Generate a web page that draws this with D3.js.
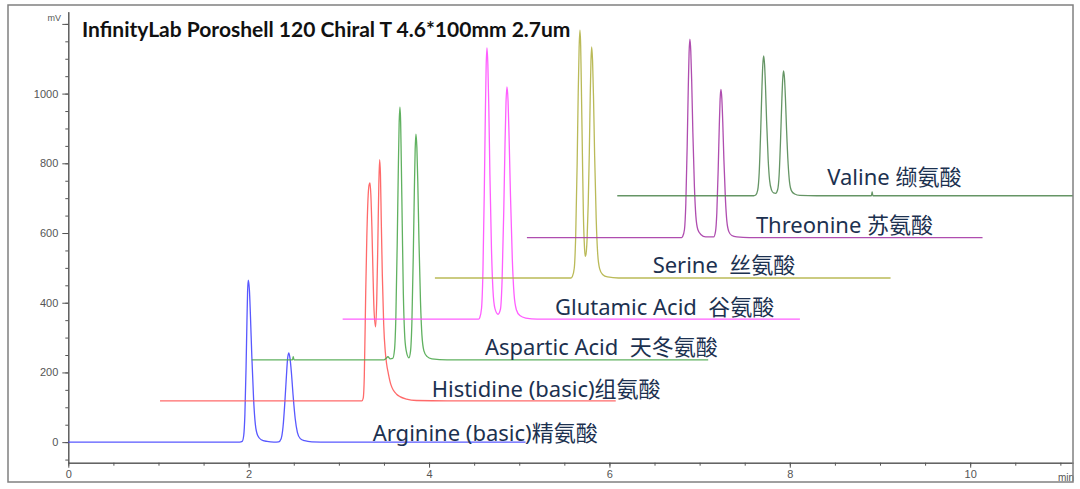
<!DOCTYPE html>
<html><head><meta charset="utf-8">
<script src="https://cdn.jsdelivr.net/npm/d3@7"></script>
<style>body{margin:0;background:#fff}svg{display:block}</style>
</head><body>
<svg id="chart" width="1080" height="489"></svg>
<script>
// ---------- data ----------
const titleText = "InfinityLab Poroshell 120 Chiral T 4.6*100mm 2.7um";
const seriesNames = ["Arginine (basic)精氨酸", "Histidine (basic)组氨酸", "Aspartic Acid  天冬氨酸", "Glutamic Acid  谷氨酸", "Serine  丝氨酸", "Threonine 苏氨酸", "Valine 缬氨酸"];
const baselineOffsets = [0, 118.5, 236, 353, 471, 587, 707];   // mV
const labelTime = [3.375, 4.029, 4.620, 5.396, 6.479, 7.624, 8.415]; // min
const labelLevel = [4, 130, 250, 365, 484, 599, 738];                // mV

const argT = [0, 1.0, 1.9, 1.928, 1.945, 1.958, 1.971, 1.981, 1.988, 1.996, 2.008, 2.019, 2.035, 2.055, 2.074, 2.100, 2.139, 2.204, 2.28, 2.332, 2.360, 2.381, 2.402, 2.419, 2.431, 2.444, 2.458, 2.473, 2.492, 2.516, 2.540, 2.572, 2.620, 2.700, 2.9, 4.0, 5.07];
const argV = [0, 0, 0, 2, 19, 79, 214, 349, 432, 465, 437, 367, 246, 121, 51, 19, 7, 2, 0, 1, 10, 44, 118, 192, 238, 256, 241, 202, 136, 67, 28, 10, 4, 1, 0, 0, 0];

const hisT = [1.017, 2.0, 3.0, 3.255, 3.27, 3.282, 3.297, 3.31, 3.325, 3.336, 3.345, 3.355, 3.366, 3.378, 3.39, 3.408, 3.42, 3.432, 3.443, 3.452, 3.461, 3.47, 3.482, 3.497, 3.515, 3.53, 3.548, 3.575, 3.603, 3.64, 3.677, 3.75, 3.86, 4.2, 6.07];
const hisV = [0, 0, 0, 0, 8, 70, 300, 470, 590, 620, 625, 590, 500, 370, 260, 212, 290, 450, 620, 692, 650, 520, 360, 220, 140, 105, 79, 48, 31, 19, 12, 5, 1, 0, 0];

const aspT = [2.033, 2.3, 2.485, 2.494, 2.503, 3.0, 3.5, 3.522, 3.544, 3.57, 3.597, 3.617, 3.632, 3.647, 3.659, 3.668, 3.677, 3.685, 3.692, 3.703, 3.715, 3.728, 3.745, 3.777, 3.795, 3.810, 3.825, 3.837, 3.846, 3.855, 3.865, 3.875, 3.888, 3.905, 3.921, 3.943, 3.976, 4.031, 4.2, 5.5, 7.095];
const aspV = [0, 0, 0, 9, 0, 0, 0, 4, 9, 3, 4, 29, 123, 334, 544, 674, 725, 682, 573, 384, 189, 80, 29, 6, 26, 110, 298, 486, 603, 648, 609, 512, 343, 168, 71, 26, 10, 3, 0, 0, 0];

const gluT = [3.042, 4.0, 4.55, 4.562, 4.582, 4.597, 4.612, 4.624, 4.633, 4.642, 4.652, 4.662, 4.675, 4.692, 4.708, 4.730, 4.765, 4.792, 4.810, 4.828, 4.842, 4.853, 4.864, 4.876, 4.887, 4.903, 4.923, 4.942, 4.968, 5.007, 5.072, 5.2, 6.5, 8.112];
const gluV = [0, 0, 0, 4, 31, 132, 358, 584, 724, 778, 731, 615, 412, 202, 86, 31, 14, 29, 113, 306, 500, 619, 666, 626, 526, 353, 173, 73, 27, 10, 3, 0, 0, 0];

const serT = [4.065, 5.0, 5.575, 5.589, 5.610, 5.626, 5.642, 5.654, 5.664, 5.673, 5.681, 5.688, 5.699, 5.711, 5.724, 5.731, 5.740, 5.752, 5.765, 5.777, 5.787, 5.795, 5.803, 5.813, 5.823, 5.836, 5.853, 5.869, 5.891, 5.924, 5.979, 6.1, 7.5, 9.117];
const serV = [0, 0, 0, 4, 28, 121, 327, 533, 661, 711, 668, 562, 377, 185, 85, 62, 68, 110, 215, 360, 520, 620, 663, 623, 524, 351, 172, 73, 27, 10, 3, 0, 0, 0];

const thrT = [5.085, 6.0, 6.8, 6.812, 6.832, 6.847, 6.862, 6.874, 6.883, 6.892, 6.902, 6.912, 6.925, 6.942, 6.958, 6.980, 7.013, 7.068, 7.156, 7.176, 7.191, 7.206, 7.218, 7.227, 7.236, 7.246, 7.256, 7.269, 7.286, 7.302, 7.324, 7.357, 7.412, 7.55, 9.0, 10.137];
const thrV = [0, 0, 0, 3, 23, 97, 262, 427, 529, 569, 535, 450, 302, 148, 63, 23, 9, 2, 2, 17, 72, 196, 319, 395, 425, 400, 336, 225, 111, 47, 17, 6, 2, 0, 0, 0];

const valT = [6.087, 7.0, 7.6, 7.622, 7.644, 7.661, 7.677, 7.690, 7.700, 7.710, 7.720, 7.730, 7.743, 7.760, 7.776, 7.798, 7.820, 7.843, 7.865, 7.882, 7.898, 7.911, 7.921, 7.931, 7.941, 7.951, 7.964, 7.981, 7.997, 8.019, 8.054, 8.11, 8.3, 8.905, 8.913, 8.921, 9.5, 11.14];
const valV = [0, 0, 0, 2, 16, 68, 184, 301, 373, 401, 377, 317, 213, 104, 44, 16, 8, 7, 17, 61, 165, 269, 333, 358, 337, 283, 190, 93, 39, 14, 5, 1, 0, 0, 11, 0, 0, 0];

const yMajorTicks = [0, 200, 400, 600, 800, 1000];
const xMajorTicks = [0, 2, 4, 6, 8, 10];
const yUnit = "mV", xUnit = "min";

// ---------- styles ----------
const seriesColors = ["#4646ff", "#ff5a5a", "#4fa84f", "#ff4cff", "#b3b346", "#a63aa6", "#548a54"];
const times = [argT, hisT, aspT, gluT, serT, thrT, valT];
const values = [argV, hisV, aspV, gluV, serV, thrV, valV];

const svg = d3.select("#chart");
svg.append("rect").attr("width", 1080).attr("height", 489).attr("fill", "#fff");

const x = d3.scaleLinear().domain([0, 11.14]).range([68.3, 1073]);
const y = d3.scaleLinear().domain([-59, 1235]).range([462.7, 11.7]);

const axisFont = "'Liberation Sans', Arial, sans-serif";

// y axis minor + major
const gy1 = svg.append("g").attr("transform", `translate(${x(0)},0)`)
  .call(d3.axisLeft(y).tickValues(d3.range(-50, 1201, 50)).tickSize(3).tickSizeOuter(0).tickFormat(""));
const gy2 = svg.append("g").attr("transform", `translate(${x(0)},0)`)
  .call(d3.axisLeft(y).tickValues(yMajorTicks.concat([1200])).tickSize(6).tickSizeOuter(0).tickPadding(4)
    .tickFormat(d => d === 1200 ? "" : d));
// x axis minor + major
const gx1 = svg.append("g").attr("transform", `translate(0,${y(-59)})`)
  .call(d3.axisBottom(x).tickValues(d3.range(0, 11.01, 0.5)).tickSize(3).tickSizeOuter(0).tickFormat(""));
const gx2 = svg.append("g").attr("transform", `translate(0,${y(-59)})`)
  .call(d3.axisBottom(x).tickValues(xMajorTicks).tickSize(5).tickSizeOuter(0).tickPadding(3));

[gy1, gy2, gx1, gx2].forEach(g => {
  g.selectAll("path.domain").attr("stroke", "#555").attr("stroke-width", 1);
  g.selectAll(".tick line").attr("stroke", "#555");
  g.selectAll(".tick text").attr("fill", "#555").style("font-family", axisFont).style("font-size", "11px");
});

svg.append("text").attr("x", 61).attr("y", 21).attr("text-anchor", "end")
  .style("font-family", axisFont).style("font-size", "9px").attr("fill", "#555").text(yUnit);
svg.append("text").attr("x", 1058).attr("y", 481)
  .style("font-family", axisFont).style("font-size", "10px").attr("fill", "#555").text(xUnit);

// traces
const line = d3.line().curve(d3.curveMonotoneX);
times.forEach((ts, i) => {
  const off = baselineOffsets[i];
  const pts = ts.map((t, j) => [x(t), y(values[i][j] + off)]);
  svg.append("path").attr("d", line(pts)).attr("fill", "none")
    .attr("stroke", seriesColors[i]).attr("stroke-width", 1.3).attr("stroke-linejoin", "round")
    .attr("opacity", 0.9);
});

// labels
seriesNames.forEach((name, i) => {
  svg.append("text").attr("x", x(labelTime[i])).attr("y", y(labelLevel[i]))
    .style("font-family", "'Noto Sans', 'Noto Sans CJK SC', sans-serif").style("font-size", "22px")
    .style("white-space", "pre").attr("fill", "#1c3150").text(name);
});

// title
svg.append("text").attr("x", 82).attr("y", 37)
  .style("font-family", "Lato, 'Noto Sans', sans-serif").style("font-weight", "700").style("font-size", "21px")
  .attr("fill", "#111").text(titleText);

// outer frame
svg.append("rect").attr("x", 8).attr("y", 5).attr("width", 1065).attr("height", 477)
  .attr("fill", "none").attr("stroke", "#808080").attr("stroke-width", 1.5);
</script>
</body></html>
